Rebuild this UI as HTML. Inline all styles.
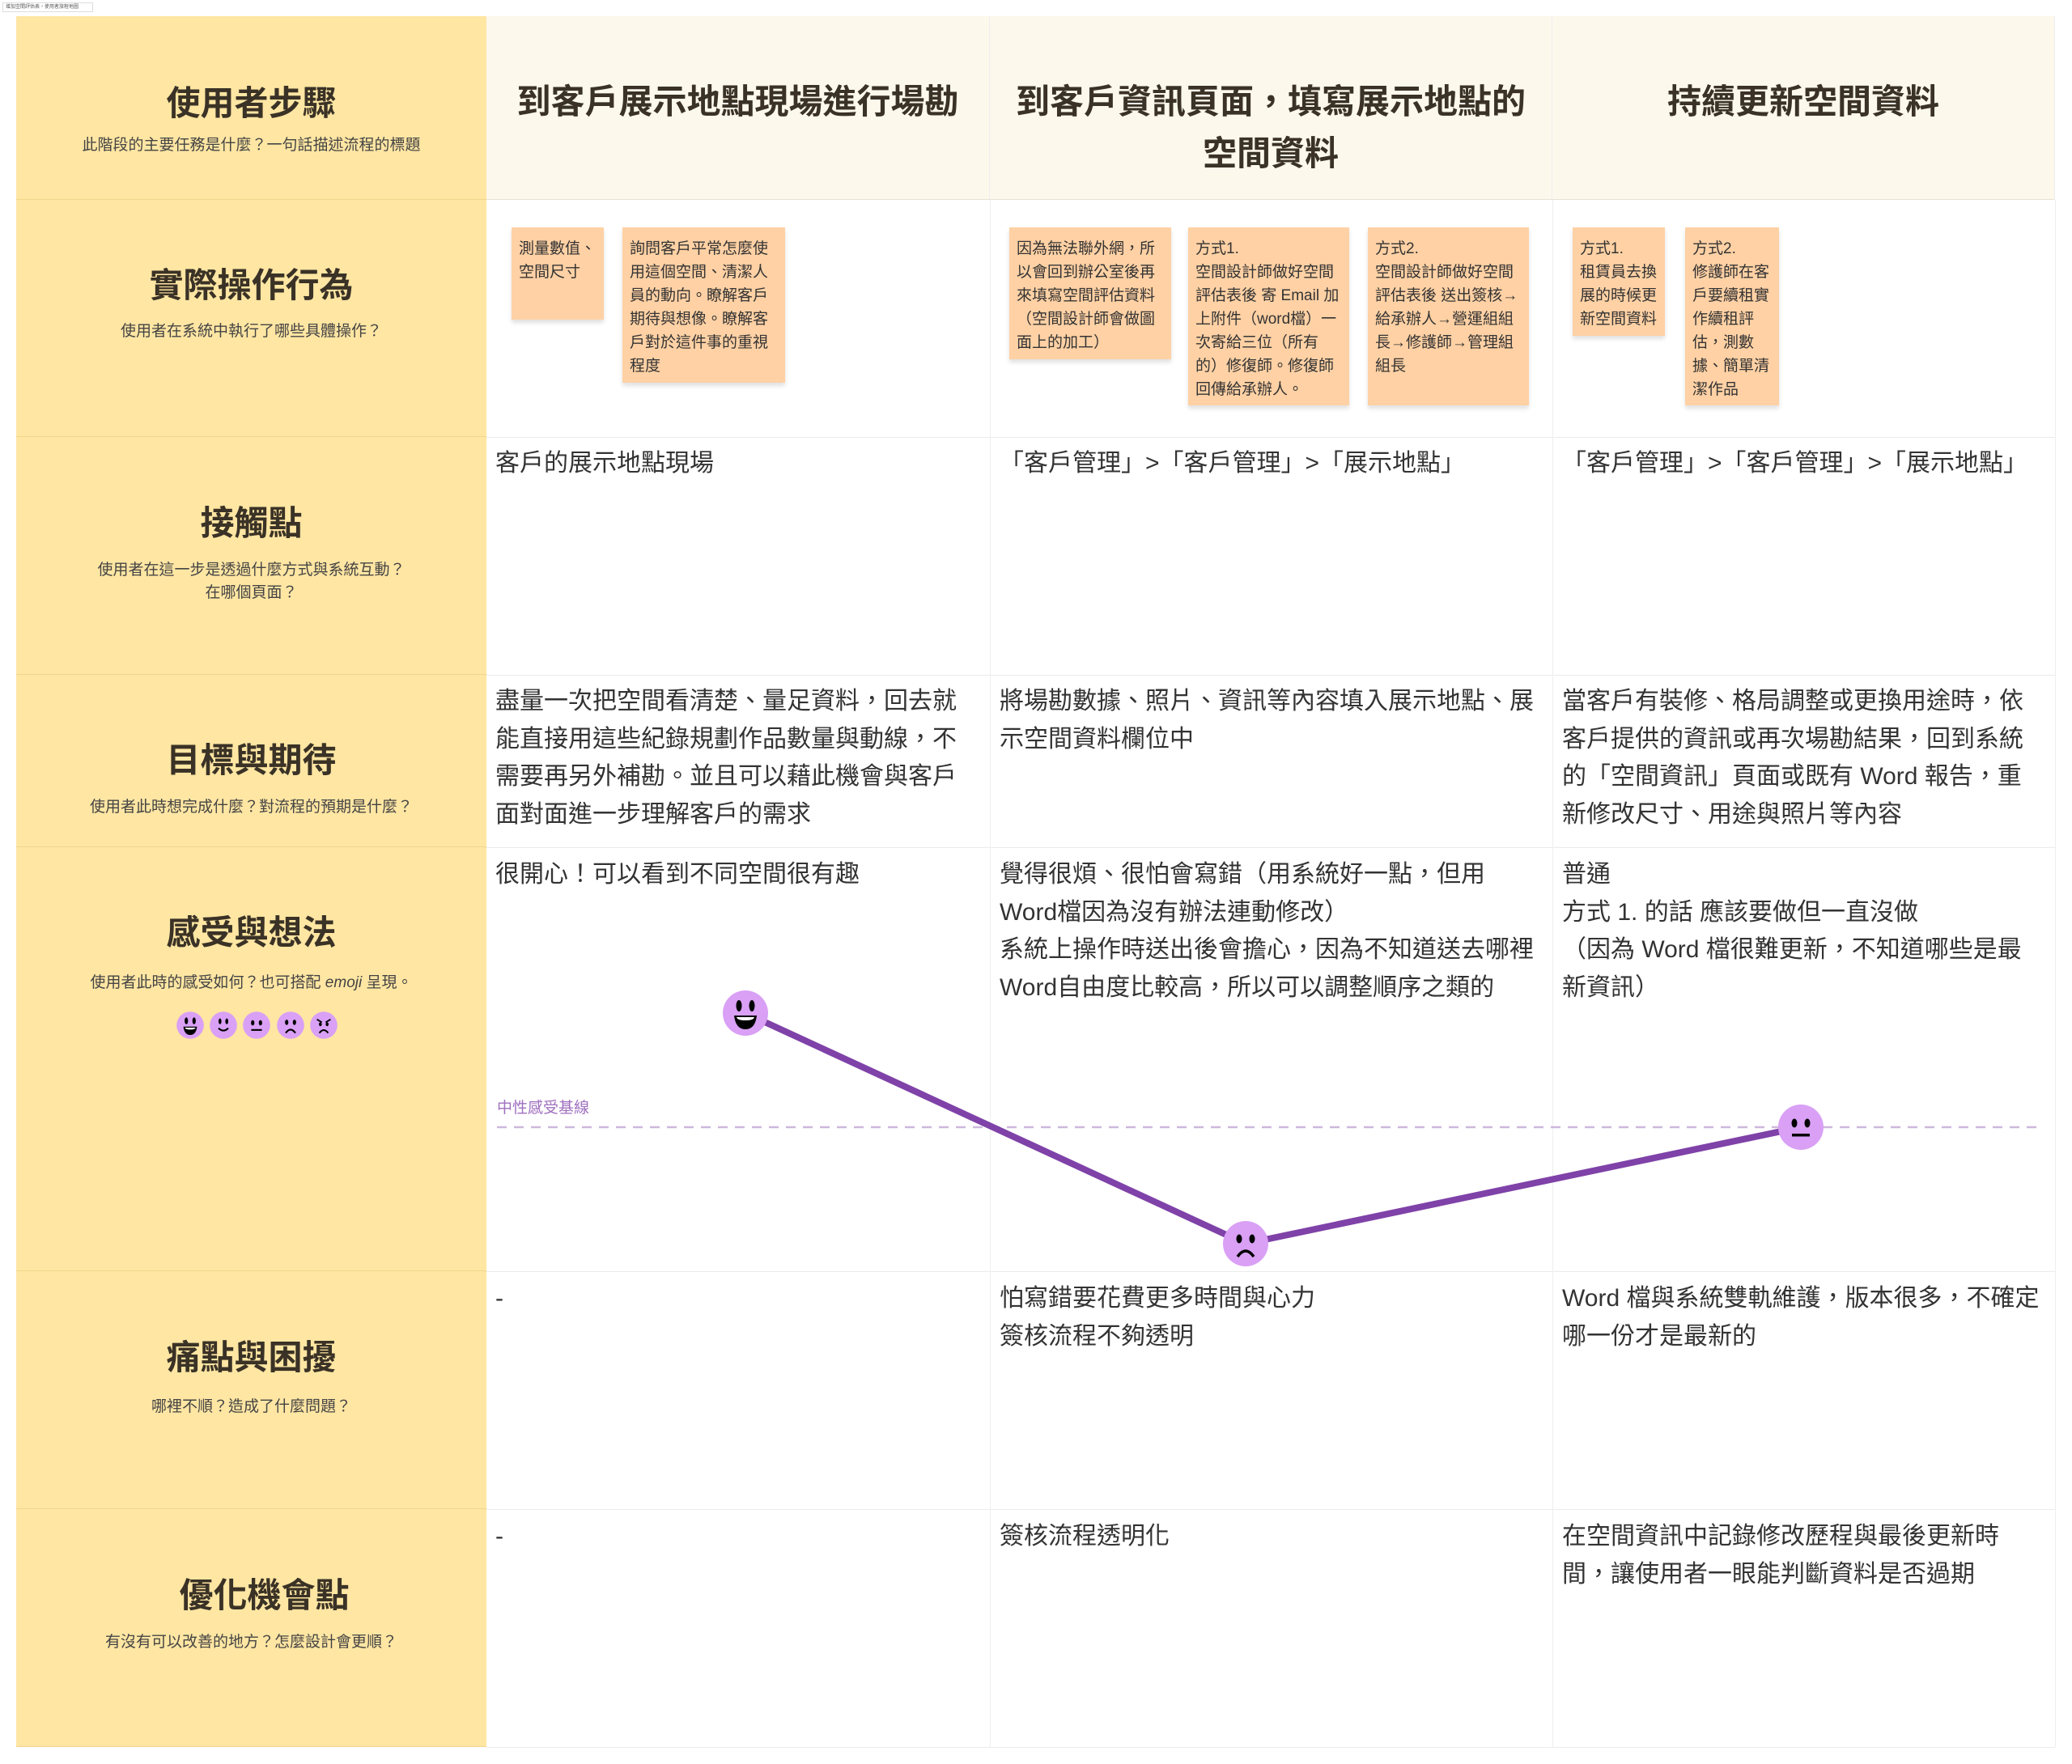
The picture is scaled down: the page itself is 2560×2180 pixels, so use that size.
<!DOCTYPE html>
<html><head><meta charset="utf-8">
<style>
*{margin:0;padding:0;box-sizing:border-box}
body{width:2560px;height:2180px;background:#fff;position:relative;overflow:hidden;font-family:"Liberation Sans","Noto Sans CJK TC",sans-serif;color:#333}
.a{position:absolute}
.lab{position:absolute;left:20px;width:581px;background:#ffe6a3;border-bottom:1px solid #f0d58c}
.tt{position:absolute;left:0;width:100%;text-align:center;font-size:42px;font-weight:bold;color:#3a3226;line-height:50px}
.st{position:absolute;left:0;width:100%;text-align:center;font-size:19px;color:#444;line-height:28px}
.hd{position:absolute;top:20px;height:227px;background:#fdf8ec;border-right:1px solid #eee;border-bottom:1px solid #e6e2d6}
.ht{position:absolute;left:0;width:100%;text-align:center;font-size:42px;font-weight:bold;color:#3a3226;line-height:64px}
.hl{position:absolute;left:601px;width:1938px;height:1px;background:#ebebeb}
.vl{position:absolute;top:247px;width:1px;height:1912px;background:#efefef}
.sk{position:absolute;background:#ffd1a4;box-shadow:0 4px 5px rgba(0,0,0,.12);font-size:19px;line-height:29px;color:#333;padding:12px 9px}
.tx{position:absolute;font-size:30px;line-height:46.5px;color:#333;white-space:nowrap}
</style></head><body>
<div class="a" style="left:3px;top:3px;width:112px;height:12px;border:1px solid #ddd;font-size:6px;line-height:10px;color:#555;padding-left:3px;white-space:nowrap;overflow:hidden">增加空間評估表，使用者旅程地圖</div>

<div class="lab" style="top:20px;height:227px"><div class="tt" style="top:83px">使用者步驟</div><div class="st" style="top:146px">此階段的主要任務是什麼？一句話描述流程的標題</div></div>
<div class="hd" style="left:601px;width:622px"><div class="ht" style="top:74px">到客戶展示地點現場進行場勘</div></div>
<div class="hd" style="left:1223px;width:695px"><div class="ht" style="top:74px">到客戶資訊頁面，填寫展示地點的<br>空間資料</div></div>
<div class="hd" style="left:1918px;width:621px"><div class="ht" style="top:74px">持續更新空間資料</div></div>

<div class="lab" style="top:247px;height:293px"><div class="tt" style="top:81px">實際操作行為</div><div class="st" style="top:149px">使用者在系統中執行了哪些具體操作？</div></div>
<div class="lab" style="top:540px;height:294px"><div class="tt" style="top:82px">接觸點</div><div class="st" style="top:151px">使用者在這一步是透過什麼方式與系統互動？<br>在哪個頁面？</div></div>
<div class="lab" style="top:834px;height:213px"><div class="tt" style="top:81px">目標與期待</div><div class="st" style="top:150px">使用者此時想完成什麼？對流程的預期是什麼？</div></div>
<div class="lab" style="top:1047px;height:524px"><div class="tt" style="top:81px">感受與想法</div><div class="st" style="top:154px">使用者此時的感受如何？也可搭配 <i>emoji</i> 呈現。</div></div>
<div class="lab" style="top:1571px;height:294px"><div class="tt" style="top:82px">痛點與困擾</div><div class="st" style="top:154px">哪裡不順？造成了什麼問題？</div></div>
<div class="lab" style="top:1865px;height:294px"><div class="tt" style="top:82px;left:16px">優化機會點</div><div class="st" style="top:151px">有沒有可以改善的地方？怎麼設計會更順？</div></div>

<div class="hl" style="top:540px"></div><div class="hl" style="top:834px"></div><div class="hl" style="top:1047px"></div><div class="hl" style="top:1571px"></div><div class="hl" style="top:1865px"></div><div class="hl" style="top:2159px"></div>
<div class="vl" style="left:1223px"></div><div class="vl" style="left:1918px"></div><div class="vl" style="left:2539px"></div>

<div class="sk" style="left:632px;top:281px;width:114px;height:114px">測量數值、<br>空間尺寸</div>
<div class="sk" style="left:769px;top:281px;width:201px;height:192px">詢問客戶平常怎麼使<br>用這個空間、清潔人<br>員的動向。瞭解客戶<br>期待與想像。瞭解客<br>戶對於這件事的重視<br>程度</div>
<div class="sk" style="left:1247px;top:281px;width:200px;height:163px">因為無法聯外網，所<br>以會回到辦公室後再<br>來填寫空間評估資料<br>（空間設計師會做圖<br>面上的加工）</div>
<div class="sk" style="left:1468px;top:281px;width:199px;height:220px">方式1.<br>空間設計師做好空間<br>評估表後 寄 Email 加<br>上附件（word檔）一<br>次寄給三位（所有<br>的）修復師。修復師<br>回傳給承辦人。</div>
<div class="sk" style="left:1690px;top:281px;width:199px;height:220px">方式2.<br>空間設計師做好空間<br>評估表後 送出簽核→<br>給承辦人→營運組組<br>長→修護師→管理組<br>組長</div>
<div class="sk" style="left:1943px;top:281px;width:114px;height:134px">方式1.<br>租賃員去換<br>展的時候更<br>新空間資料</div>
<div class="sk" style="left:2082px;top:281px;width:116px;height:220px">方式2.<br>修護師在客<br>戶要續租實<br>作續租評<br>估，測數<br>據、簡單清<br>潔作品</div>

<div class="tx" style="left:612px;top:550px">客戶的展示地點現場</div>
<div class="tx" style="left:1235px;top:550px">「客戶管理」>「客戶管理」>「展示地點」</div>
<div class="tx" style="left:1930px;top:550px">「客戶管理」>「客戶管理」>「展示地點」</div>

<div class="tx" style="left:612px;top:844px">盡量一次把空間看清楚、量足資料，回去就<br>能直接用這些紀錄規劃作品數量與動線，不<br>需要再另外補勘。並且可以藉此機會與客戶<br>面對面進一步理解客戶的需求</div>
<div class="tx" style="left:1235px;top:844px">將場勘數據、照片、資訊等內容填入展示地點、展<br>示空間資料欄位中</div>
<div class="tx" style="left:1930px;top:844px">當客戶有裝修、格局調整或更換用途時，依<br>客戶提供的資訊或再次場勘結果，回到系統<br>的「空間資訊」頁面或既有 Word 報告，重<br>新修改尺寸、用途與照片等內容</div>

<div class="tx" style="left:612px;top:1058px">很開心！可以看到不同空間很有趣</div>
<div class="tx" style="left:1235px;top:1058px">覺得很煩、很怕會寫錯（用系統好一點，但用<br>Word檔因為沒有辦法連動修改）<br>系統上操作時送出後會擔心，因為不知道送去哪裡<br>Word自由度比較高，所以可以調整順序之類的</div>
<div class="tx" style="left:1930px;top:1058px">普通<br>方式 1. 的話 應該要做但一直沒做<br>（因為 Word 檔很難更新，不知道哪些是最<br>新資訊）</div>

<div class="tx" style="left:612px;top:1582px">-</div>
<div class="tx" style="left:1235px;top:1582px">怕寫錯要花費更多時間與心力<br>簽核流程不夠透明</div>
<div class="tx" style="left:1930px;top:1582px">Word 檔與系統雙軌維護，版本很多，不確定<br>哪一份才是最新的</div>

<div class="tx" style="left:612px;top:1876px">-</div>
<div class="tx" style="left:1235px;top:1876px">簽核流程透明化</div>
<div class="tx" style="left:1930px;top:1876px">在空間資訊中記錄修改歷程與最後更新時<br>間，讓使用者一眼能判斷資料是否過期</div>

<div class="a" style="left:614px;top:1358px;font-size:19px;color:#a070c0;line-height:24px">中性感受基線</div>

<svg class="a" style="left:0;top:0" width="2560" height="2180">
<defs>
<g id="happy"><circle r="28" fill="#d9a0f5"/><ellipse cx="-8" cy="-9" rx="3.5" ry="7"/><ellipse cx="8" cy="-9" rx="3.5" ry="7"/><path d="M-14 3 Q0 3 14 3 Q12 20 0 20 Q-12 20 -14 3Z"/><path d="M-11 5 L11 5 Q10 9 0 9 Q-10 9 -11 5Z" fill="#fff"/></g>
<g id="smile"><circle r="28" fill="#d9a0f5"/><ellipse cx="-7" cy="-8" rx="3" ry="6"/><ellipse cx="7" cy="-8" rx="3" ry="6"/><path d="M-10 6 Q0 16 10 6" stroke="#000" stroke-width="3.5" fill="none"/></g>
<g id="neutral"><circle r="28" fill="#d9a0f5"/><ellipse cx="-8" cy="-5" rx="3.5" ry="5.5"/><ellipse cx="8" cy="-5" rx="3.5" ry="5.5"/><rect x="-11" y="8" width="22" height="3.5"/></g>
<g id="sad"><circle r="28" fill="#d9a0f5"/><ellipse cx="-8" cy="-6" rx="3.5" ry="5.5"/><ellipse cx="8" cy="-6" rx="3.5" ry="5.5"/><path d="M-10 16 Q0 2 10 16" stroke="#000" stroke-width="3.5" fill="none"/></g>
<g id="angry"><circle r="28" fill="#d9a0f5"/><path d="M-14 -12 L-4 -6 M14 -12 L4 -6" stroke="#000" stroke-width="3"/><ellipse cx="-7" cy="-2" rx="3" ry="4"/><ellipse cx="7" cy="-2" rx="3" ry="4"/><path d="M-9 16 Q0 4 9 16" stroke="#000" stroke-width="3.5" fill="none"/></g>
</defs>
<line x1="614" y1="1393" x2="2525" y2="1393" stroke="#cdb8dc" stroke-width="2.5" stroke-dasharray="12 9"/>
<polyline points="921,1252 1539,1537 2225,1393" fill="none" stroke="#7f42a8" stroke-width="8" stroke-linejoin="round"/>
<use href="#happy" transform="translate(921,1252)"/>
<use href="#sad" transform="translate(1539,1537)"/>
<use href="#neutral" transform="translate(2225,1393)"/>
<use href="#happy" transform="translate(235,1267) scale(0.6)"/>
<use href="#smile" transform="translate(276,1267) scale(0.6)"/>
<use href="#neutral" transform="translate(317,1267) scale(0.6)"/>
<use href="#sad" transform="translate(359,1267) scale(0.6)"/>
<use href="#angry" transform="translate(400,1267) scale(0.6)"/>
</svg>
</body></html>
